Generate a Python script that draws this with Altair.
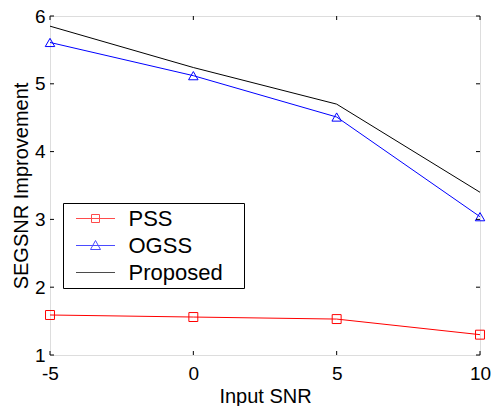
import altair as alt
import pandas as pd

# ---- data ----
input_snr = [-5, 0, 5, 10]
pss = [1.59, 1.56, 1.53, 1.30]
ogss = [5.61, 5.12, 4.51, 3.04]
proposed = [5.85, 5.24, 4.70, 3.40]
series_names = ["PSS", "OGSS", "Proposed"]
x_ticks = [-5, 0, 5, 10]
y_ticks = [1, 2, 3, 4, 5, 6]

rows = []
for name, vals in zip(series_names, [pss, ogss, proposed]):
    for x, v in zip(input_snr, vals):
        rows.append({"snr": x, "val": v, "series": name})
df = pd.DataFrame(rows)

W, H = 430, 339
FONT = "Liberation Sans"

xscale = alt.Scale(domain=[-5, 10], nice=False, zero=False)
yscale = alt.Scale(domain=[1, 6], nice=False, zero=False)

xax = alt.Axis(values=x_ticks, ticks=False, domain=False, grid=False, labelFontSize=19,
               labelFont=FONT, labelColor="black", labelPadding=9, title="Input SNR",
               labelExpr="datum.value + ''",
               titleFont=FONT, titleFontSize=20, titleFontWeight="normal", titleColor="black",
               titlePadding=3, labelFlush=False)
yax = alt.Axis(values=y_ticks, ticks=False, domain=False, grid=False, labelFontSize=19,
               labelFont=FONT, labelColor="black", labelPadding=5, format="d",
               title="SEGSNR Improvement", titleFont=FONT, titleFontSize=20,
               titleFontWeight="normal", titleColor="black", titlePadding=3, labelFlush=False)

X = alt.X("snr:Q", scale=xscale, axis=xax)
Y = alt.Y("val:Q", scale=yscale, axis=yax)

cscale = alt.Scale(domain=series_names, range=["#ff0000", "#0000ff", "#000000"])
sscale = alt.Scale(domain=series_names, range=[
    "M-1.95,0L1.95,0M-0.4,-0.4L0.4,-0.4L0.4,0.4L-0.4,0.4Z",
    "M-1.95,0L1.95,0M0,-0.5L0.5,0.4L-0.5,0.4Z",
    "M-1.95,0L1.95,0",
])

BLANK = "\u2800"
leg = alt.Legend(orient="none", legendX=13, legendY=187, title=None,
                 strokeColor="black", fillColor="white", padding=4.5,
                 symbolSize=400, symbolStrokeWidth=1, symbolOffset=17,
                 labelOffset=22, labelFont=FONT, labelFontSize=22, labelColor="black",
                 rowPadding=5, labelExpr="datum.label + '" + BLANK + "'")

base = alt.Chart(df)

lines = base.mark_line(strokeWidth=1).encode(
    x=X, y=Y, color=alt.Color("series:N", scale=cscale, legend=leg))

pss_pts = base.transform_filter(alt.datum.series == "PSS").mark_point(
    shape="square", size=80, filled=False, color="#ff0000", strokeWidth=1, opacity=1
).encode(x=X, y=Y)

ogss_pts = base.transform_filter(alt.datum.series == "OGSS").mark_point(
    shape="triangle-up", size=90, filled=False, color="#0000ff", strokeWidth=1, opacity=1
).encode(x=X, y=Y)

legend_layer = base.transform_filter("false").mark_point(filled=False, strokeWidth=1).encode(
    x=X, y=Y,
    color=alt.Color("series:N", scale=cscale, legend=leg),
    shape=alt.Shape("series:N", scale=sscale, legend=leg))

# inward tick marks on all four sides
xt = pd.DataFrame({"t": x_ticks})
yt = pd.DataFrame({"t": y_ticks})
tx = alt.X("t:Q", scale=xscale)
ty = alt.Y("t:Q", scale=yscale)
bottom_ticks = alt.Chart(xt).mark_rule(color="black", strokeWidth=1).encode(
    x=tx, y=alt.value(H), y2=alt.value(H - 4))
top_ticks = alt.Chart(xt).mark_rule(color="black", strokeWidth=1).encode(
    x=tx, y=alt.value(0), y2=alt.value(4))
left_ticks = alt.Chart(yt).mark_rule(color="black", strokeWidth=1).encode(
    y=ty, x=alt.value(0), x2=alt.value(4))
right_ticks = alt.Chart(yt).mark_rule(color="black", strokeWidth=1).encode(
    y=ty, x=alt.value(W), x2=alt.value(W - 4))

chart = alt.layer(lines, pss_pts, ogss_pts, legend_layer,
                  bottom_ticks, top_ticks, left_ticks, right_ticks).properties(
    width=W, height=H,
    autosize=alt.AutoSizeParams(type="none"),
    padding={"left": 42, "top": 8, "right": 11, "bottom": 51},
).configure_view(stroke="black", strokeWidth=1).configure(background="white")

chart.save("out.html", embed_options={"renderer": "svg", "actions": False})
